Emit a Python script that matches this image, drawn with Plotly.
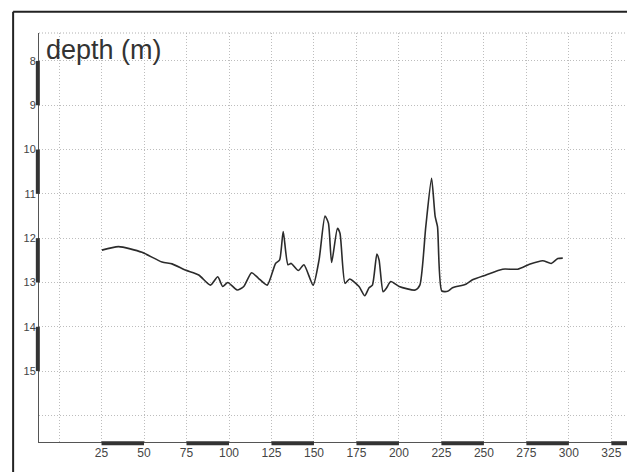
import plotly.graph_objects as go

# ---- data ----
distance = [25.2, 35, 48.8, 60.6, 66.5, 74.3, 82.2, 89.1, 93.4, 96.3, 99.3, 104.8, 108.7,
            113.3, 117.2, 122.5, 127.4, 129.8, 131.9, 134.7, 136.6, 140.8, 144.1, 149.5,
            153, 156.5, 158.5, 160.4, 163.8, 165.3, 168.3, 171, 176.5, 179.9, 182.4, 184.4,
            187, 188.3, 190.7, 192.6, 195.2, 200.1, 209.6, 212.3, 215.8, 219.2, 221.3,
            222.7, 225.2, 228.6, 231.5, 239.4, 243.3, 251.2, 261, 269.9, 276.8, 284.6,
            289.6, 293.5, 296.4]
depth = [12.27, 12.19, 12.32, 12.54, 12.58, 12.72, 12.83, 13.06, 12.87, 13.09, 13.0, 13.17,
         13.09, 12.78, 12.9, 13.06, 12.57, 12.49, 11.85, 12.6, 12.57, 12.73, 12.6, 13.06,
         12.49, 11.5, 11.66, 12.55, 11.78, 11.89, 13.02, 12.92, 13.09, 13.3, 13.12, 13.06,
         12.36, 12.49, 13.21, 13.13, 12.98, 13.09, 13.17, 13.06, 11.74, 10.65, 11.51,
         11.74, 13.19, 13.2, 13.12, 13.04, 12.94, 12.83, 12.7, 12.7, 12.59, 12.51,
         12.57, 12.46, 12.45]

x_ticks = [0, 25, 50, 75, 100, 125, 150, 175, 200, 225, 250, 275, 300, 325]
x_labels = ["", "25", "50", "75", "100", "125", "150", "175", "200", "225", "250", "275", "300", "325"]
y_ticks = [8, 9, 10, 11, 12, 13, 14, 15, 16]
y_labels = ["8", "9", "10", "11", "12", "13", "14", "15", ""]
title_text = "depth (m)"

X_RANGE = [-11.8, 334.2]
Y_RANGE = [16.6, 7.37]

fig = go.Figure()
fig.add_trace(go.Scatter(x=distance, y=depth, mode="lines",
                         line=dict(color="#2b2b2b", width=1.6, shape="spline", smoothing=0.6),
                         hoverinfo="skip", showlegend=False))

shapes = []
# alternating thick scale bars on the depth axis
for i in range(0, len(y_ticks) - 2, 2):
    shapes.append(dict(type="line", xref="paper", yref="y", x0=-0.002, x1=-0.002,
                       y0=y_ticks[i], y1=y_ticks[i + 1], line=dict(color="#333", width=4)))
# alternating thick scale bars on the distance axis
for i in range(1, len(x_ticks), 2):
    x1 = x_ticks[i + 1] if i + 1 < len(x_ticks) else X_RANGE[1]
    shapes.append(dict(type="line", xref="x", yref="paper", x0=x_ticks[i], x1=x1,
                       y0=-0.003, y1=-0.003, line=dict(color="#333", width=4)))
# dotted top frame of the plot
shapes.append(dict(type="line", xref="paper", yref="paper", x0=0, x1=1, y0=1, y1=1,
                   line=dict(color="#b0b0b0", width=1, dash="1px,2px")))
# outer page frame (top and left)
shapes.append(dict(type="line", xref="paper", yref="paper", x0=-0.044, x1=-0.044,
                   y0=1.052, y1=-0.2, line=dict(color="#222", width=2)))
shapes.append(dict(type="line", xref="paper", yref="paper", x0=-0.044, x1=1.1,
                   y0=1.052, y1=1.052, line=dict(color="#222", width=2)))

fig.update_layout(
    width=627, height=472,
    margin=dict(l=39, r=0, t=33, b=30),
    paper_bgcolor="white", plot_bgcolor="white",
    font=dict(family="Liberation Sans, Arial, sans-serif", color="#444"),
    shapes=shapes,
    annotations=[dict(text=title_text, xref="paper", yref="paper", x=0.008, y=1.0,
                      xanchor="left", yanchor="top", showarrow=False,
                      font=dict(size=27, color="#333"))],
)
fig.update_xaxes(range=X_RANGE, tickvals=x_ticks, ticktext=x_labels,
                 showgrid=True, gridcolor="#bdbdbd", griddash="1px,2px", gridwidth=1,
                 showline=True, linecolor="#555", linewidth=1, zeroline=False,
                 ticks="", tickfont=dict(size=12, color="#444"))
fig.update_yaxes(range=Y_RANGE, tickvals=y_ticks, ticktext=y_labels,
                 showgrid=True, gridcolor="#bdbdbd", griddash="1px,2px", gridwidth=1,
                 showline=True, linecolor="#555", linewidth=1, zeroline=False,
                 ticks="", tickfont=dict(size=11, color="#444"))

fig.write_html("out.html", config={"displayModeBar": False},
               post_script="document.body.style.margin='0';document.body.style.overflow='hidden';")
